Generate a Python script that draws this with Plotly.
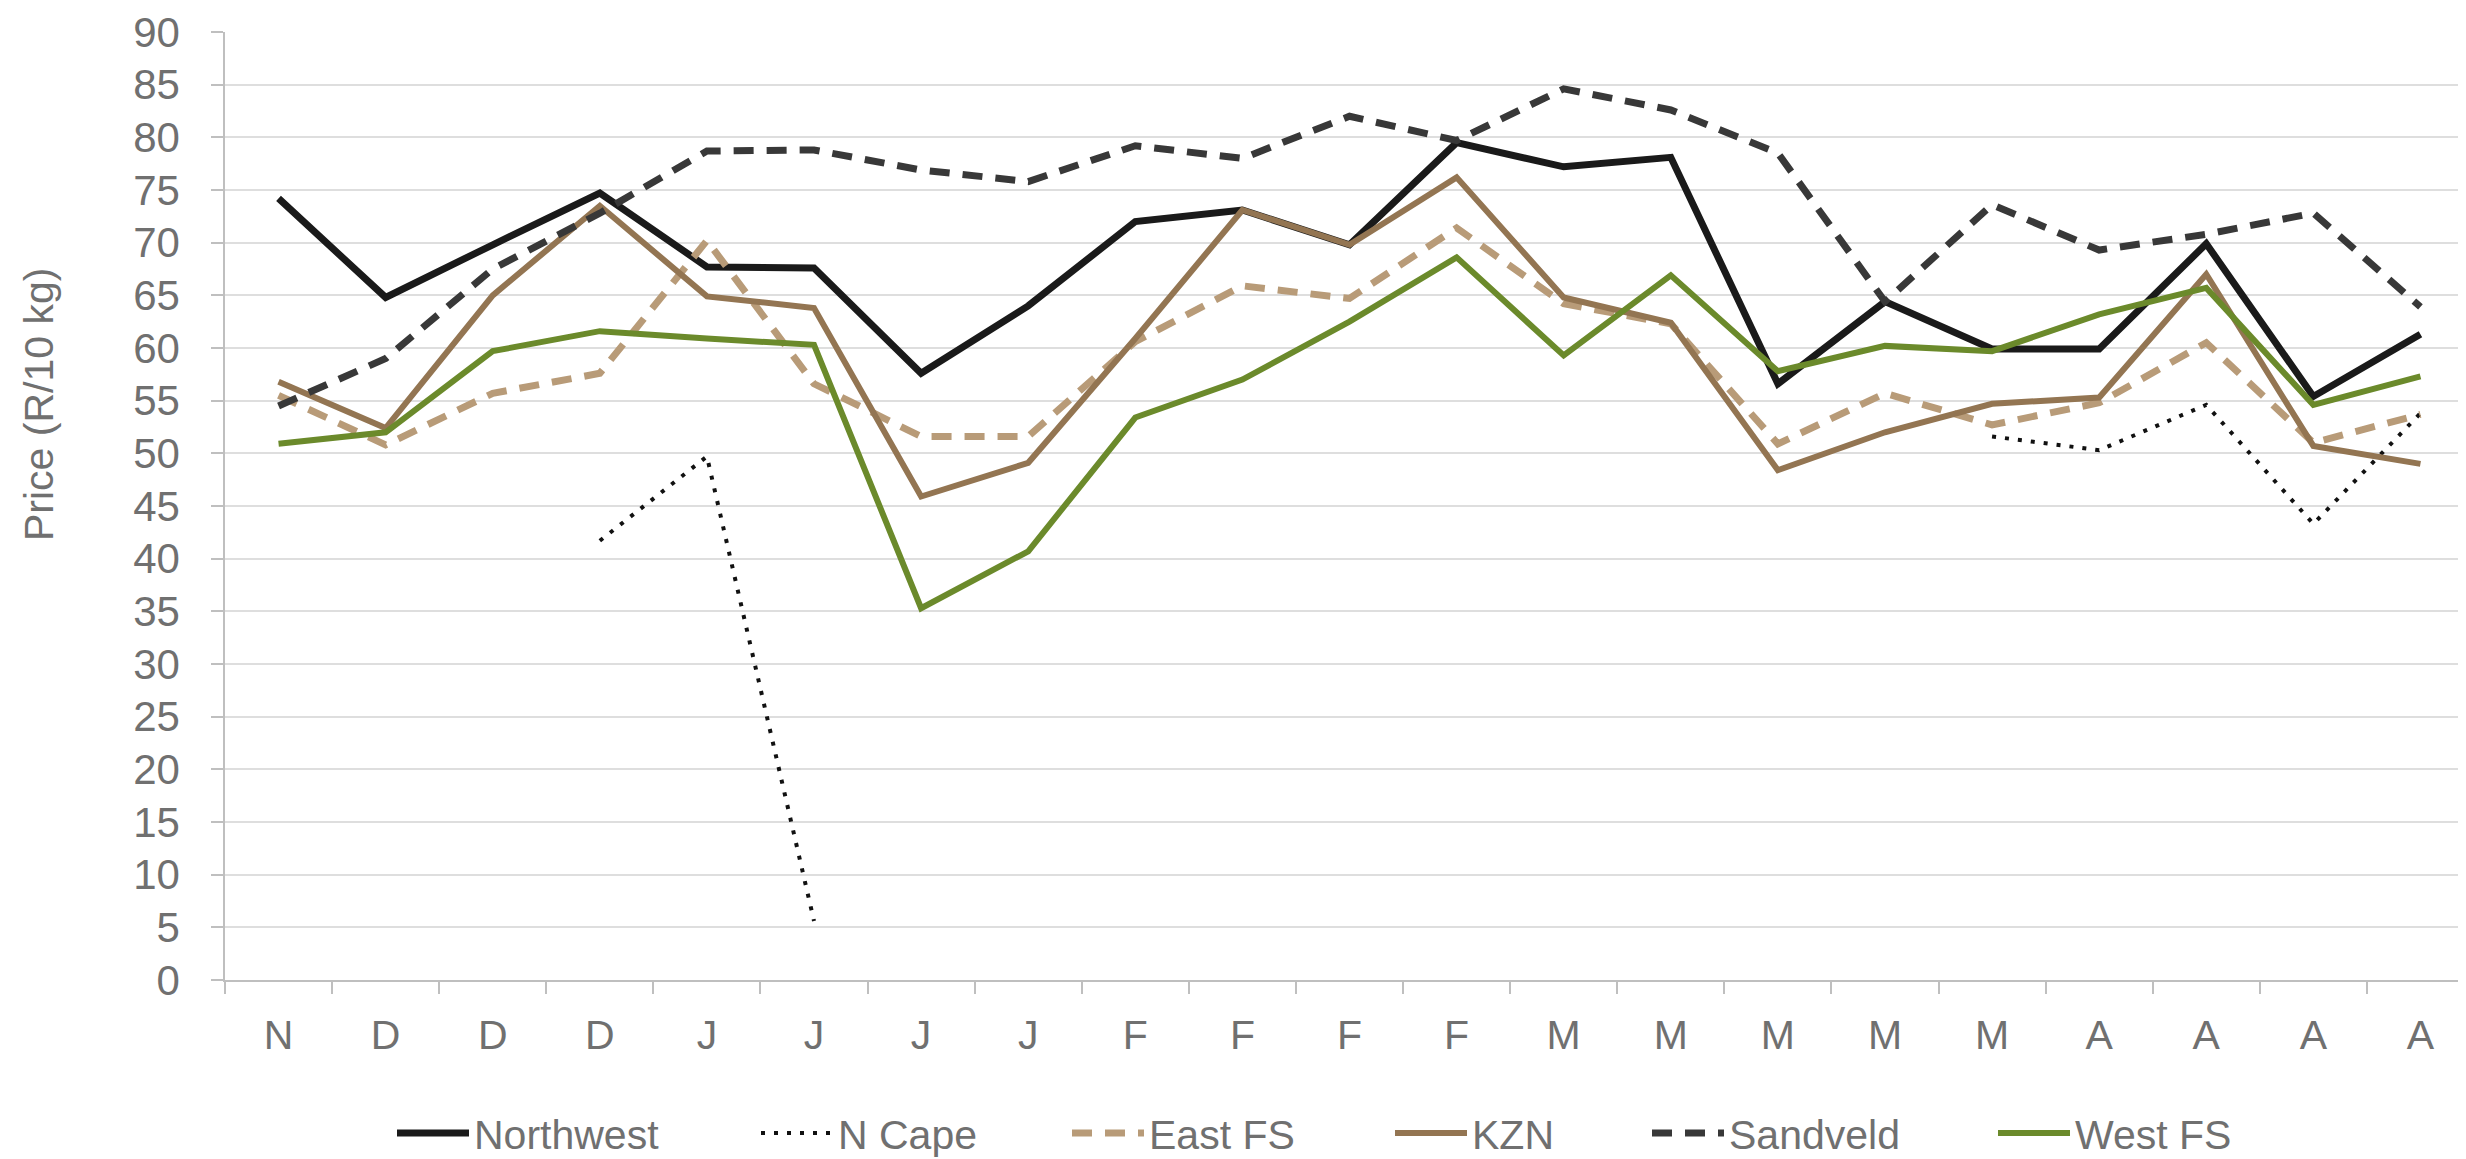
import plotly.graph_objects as go

labels = ["N", "D", "D", "D", "J", "J", "J", "J", "F", "F", "F", "F",
          "M", "M", "M", "M", "M", "A", "A", "A", "A"]
x = list(range(len(labels)))

northwest = [74.2, 64.8, 69.8, 74.7, 67.7, 67.6, 57.6, 64.0, 72.0, 73.1, 69.8, 79.5,
             77.2, 78.1, 56.6, 64.4, 59.9, 59.9, 69.9, 55.4, 61.3]
n_cape = [None, None, None, 41.7, 49.7, 5.6, None, None, None, None, None, None,
          None, None, None, None, 51.6, 50.3, 54.6, 43.3, 53.8]
east_fs = [55.5, 50.8, 55.7, 57.6, 70.2, 56.6, 51.6, 51.6, 60.6, 65.9, 64.7, 71.4,
           64.2, 62.3, 50.9, 55.7, 52.7, 54.8, 60.5, 51.0, 53.7]
kzn = [56.8, 52.4, 65.0, 73.5, 64.9, 63.8, 45.9, 49.1, 60.9, 73.1, 69.8, 76.2,
       64.8, 62.4, 48.4, 52.0, 54.7, 55.3, 67.0, 50.7, 49.0]
sandveld = [54.5, 59.0, 67.5, 72.8, 78.7, 78.8, 76.9, 75.8, 79.2, 78.0, 82.0, 79.7,
            84.6, 82.6, 78.5, 64.4, 73.6, 69.3, 70.8, 72.8, 63.9]
west_fs = [50.9, 52.0, 59.7, 61.6, 60.9, 60.3, 35.3, 40.7, 53.4, 57.0, 62.5, 68.6,
           59.3, 66.9, 57.8, 60.2, 59.7, 63.2, 65.7, 54.6, 57.3]

series = [
    ("Northwest", northwest, "#1a1a1a", 7, "solid"),
    ("N Cape", n_cape, "#111111", 4, "4px,9px"),
    ("East FS", east_fs, "#b89b78", 7, "20px,13px"),
    ("KZN", kzn, "#937552", 6, "solid"),
    ("Sandveld", sandveld, "#383838", 7, "20px,13px"),
    ("West FS", west_fs, "#6b8a2b", 6, "solid"),
]

# legend symbol start positions (px) in the reference
legend_px = [398, 762, 1073, 1396, 1653, 1999]
L, R, T, B = 217, 0, 24, 177
W, H = 2466, 1159
pw = W - L - R
ph = H - T - B

FONT = "Liberation Sans, Arial, sans-serif"
GRAY = "#707070"

fig = go.Figure()
layout_legends = {}
for i, (name, vals, color, width, dash) in enumerate(series):
    lg = "legend" if i == 0 else f"legend{i+1}"
    fig.add_trace(go.Scatter(
        x=x, y=vals, name=name, mode="lines",
        line=dict(color=color, width=width, dash=dash),
        legend=lg, connectgaps=False,
    ))
    layout_legends[lg] = dict(
        x=(legend_px[i] - L - 14) / pw, xanchor="left",
        y=(T + ph - 1137) / ph, yanchor="middle",
        orientation="h", itemwidth=72,
        font=dict(family=FONT, size=41, color=GRAY),
        bgcolor="rgba(0,0,0,0)", borderwidth=0,
    )

fig.update_layout(
    width=W, height=H,
    margin=dict(l=L, r=R, t=T, b=B, pad=0),
    paper_bgcolor="white", plot_bgcolor="white",
    font=dict(family=FONT, size=41, color=GRAY),
    showlegend=True,
    **layout_legends,
)

fig.update_xaxes(
    range=[-0.5, len(labels) - 0.5],
    tickmode="array", tickvals=x, ticktext=labels,
    ticks="", showgrid=False,
    showline=True, linecolor="#bfbfbf", linewidth=1.5,
    tickfont=dict(family=FONT, size=41, color=GRAY),
    ticklabelstandoff=18,
    minor=dict(ticks="outside", tick0=-0.5, dtick=1, ticklen=12,
               tickcolor="#bfbfbf", tickwidth=1.5, showgrid=False),
    zeroline=False,
)
fig.update_yaxes(
    range=[0, 90], dtick=5, tick0=0,
    showgrid=True, gridcolor="#dedede", gridwidth=1.5,
    showline=True, linecolor="#bfbfbf", linewidth=1.5,
    ticks="outside", ticklen=12, tickcolor="#bfbfbf", tickwidth=1.5,
    tickfont=dict(family=FONT, size=42, color=GRAY),
    ticklabelstandoff=23,
    zeroline=False,
)

fig.add_annotation(
    text="Price (R/10 kg)", textangle=-90,
    xref="paper", yref="paper",
    x=(31 - L) / pw, y=(T + ph - 401) / ph,
    xanchor="center", yanchor="middle", showarrow=False,
    font=dict(family=FONT, size=41, color=GRAY),
)

fig.write_html("out.html")
